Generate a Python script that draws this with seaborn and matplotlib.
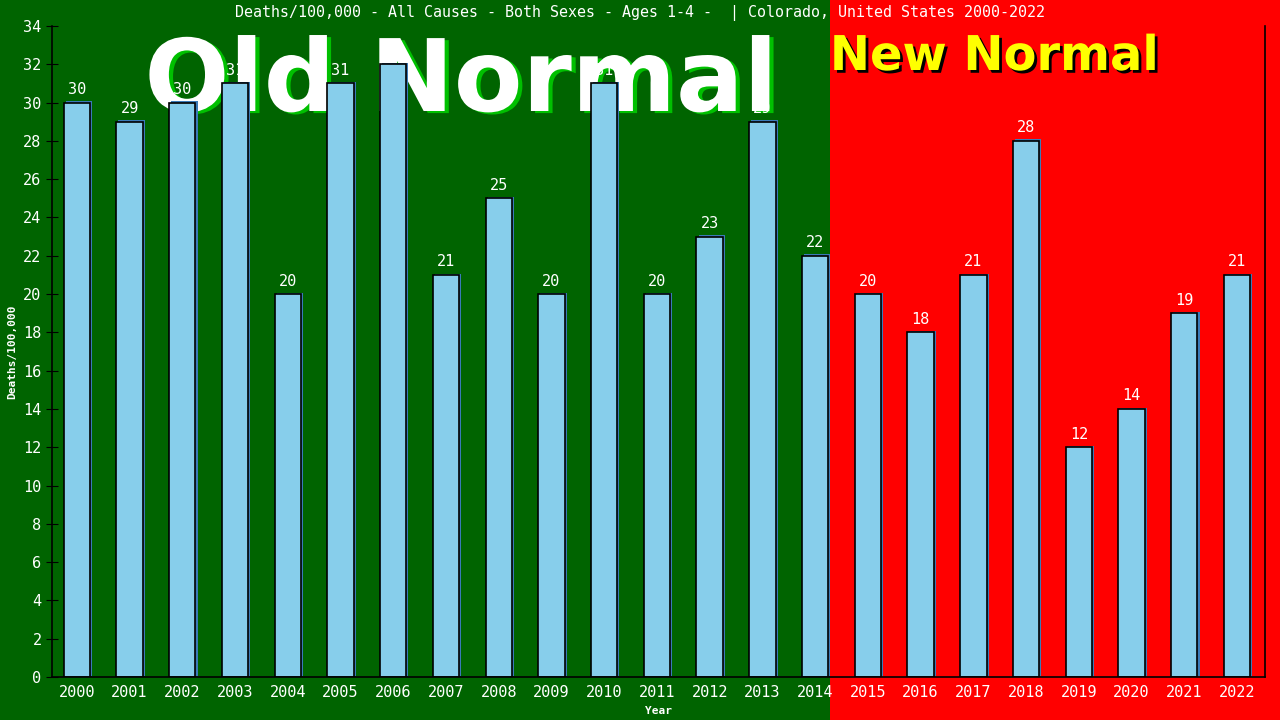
import pandas as pd
import seaborn as sns
import matplotlib.pyplot as plt
import matplotlib.patheffects as pe
from matplotlib.patches import Rectangle

years = [str(y) for y in range(2000, 2023)]
deaths = [30, 29, 30, 31, 20, 31, 32, 21, 25, 20, 31, 20, 23, 29, 22,
          20, 18, 21, 28, 12, 14, 19, 21]
title = "Deaths/100,000 - All Causes - Both Sexes - Ages 1-4 -  | Colorado, United States 2000-2022"

df = pd.DataFrame({"Year": years, "Deaths": deaths})

sns.set_style("ticks")
plt.rcParams['font.family'] = ['DejaVu Sans Mono', 'DejaVu Sans']

fig = plt.figure(figsize=(12.8, 7.2), dpi=100)
fig.patch.set_facecolor('#006400')

# red "new normal" half of the background
split = 830 / 1280
fig.patches.append(Rectangle((split, 0), 1 - split, 1, transform=fig.transFigure,
                             facecolor='#ff0000', edgecolor='none', zorder=-10))

ax = fig.add_axes([52 / 1280, 43 / 720, (1265 - 52) / 1280, (677 - 26) / 720])
ax.set_facecolor('none')
ax.set_zorder(1)

sns.barplot(data=df, x="Year", y="Deaths", color='#87CEEB', saturation=1,
            edgecolor='black', linewidth=1.2, width=0.5, ax=ax)
for bar in ax.patches:
    bar.set_path_effects([pe.SimplePatchShadow(offset=(1.5, 1.0), shadow_rgbFace='#3a7ab8', alpha=1),
                          pe.Normal()])

ax.bar_label(ax.containers[0], color='white', padding=4, fontsize=11)

ax.set_xlim(-0.47, 22.53)
ax.set_ylim(0, 34)
ax.set_yticks(range(0, 35, 2))
ax.tick_params(axis='y', direction='inout', length=8, colors='black', labelcolor='white', labelsize=11)
ax.tick_params(axis='x', length=0, labelcolor='white', labelsize=11, pad=6)
for s in ['left', 'bottom', 'right']:
    ax.spines[s].set_color('black')
    ax.spines[s].set_linewidth(1.2)
ax.spines['top'].set_visible(False)

ax.set_xlabel("Year", color='white', fontsize=8, fontweight='bold', labelpad=4)
ax.set_ylabel("Deaths/100,000", color='white', fontsize=8, fontweight='bold')
ax.yaxis.set_label_coords(-0.029, 0.5)

fig.text(0.5, 0.982, title, color='white', fontsize=10.8, ha='center', va='center')

# big banner texts sit behind the bars
fig.text(461 / 1280, 1 - 111 / 720, "Old Normal", color='white', fontsize=72,
         fontweight='bold', family='DejaVu Sans', ha='center', va='baseline', zorder=0,
         path_effects=[pe.withSimplePatchShadow(offset=(3, -1.5), shadow_rgbFace='#00c000', alpha=1)])
fig.text(994 / 1280, 1 - 70 / 720, "New Normal", color='#ffff00', fontsize=34.5,
         fontweight='bold', family='DejaVu Sans', ha='center', va='baseline', zorder=0,
         path_effects=[pe.withSimplePatchShadow(offset=(2, -2), shadow_rgbFace='black', alpha=1)])

fig.savefig("out.png", dpi=100, facecolor=fig.get_facecolor())
